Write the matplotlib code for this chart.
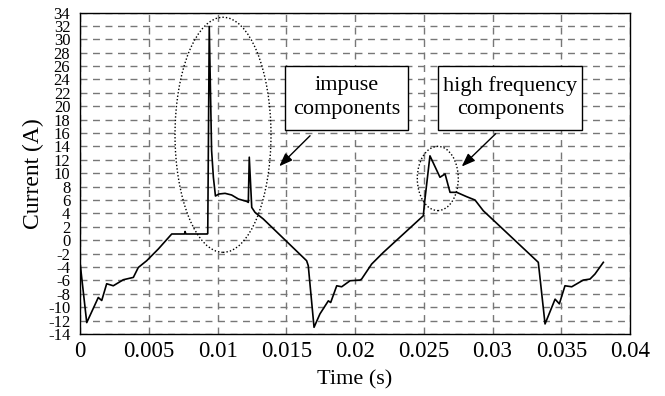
import matplotlib.pyplot as plt
from matplotlib.patches import Ellipse, Rectangle

# Times-like serif font
plt.rcParams['font.family'] = 'Liberation Serif'

# waveform (time in s, current in A)
t = [0.0, 0.00049, 0.00133, 0.00158, 0.00194, 0.00242, 0.00315, 0.00388,
     0.00424, 0.00485, 0.0057, 0.00667, 0.0076, 0.00764, 0.0077, 0.00926,
     0.00929, 0.0094, 0.00957, 0.0097, 0.00985, 0.0101, 0.01055, 0.01103,
     0.01152, 0.01212, 0.01224, 0.01231, 0.01249, 0.01273, 0.01333, 0.01648,
     0.0166, 0.01702, 0.01745, 0.01806, 0.01823, 0.01867, 0.01903, 0.01964,
     0.02036, 0.02048, 0.02121, 0.02206, 0.02352, 0.02497, 0.02505, 0.02545,
     0.02618, 0.02655, 0.02691, 0.0274, 0.02812, 0.02873, 0.02933, 0.03006,
     0.03333, 0.03382, 0.03455, 0.03486, 0.03527, 0.03576, 0.0366, 0.03709,
     0.03745, 0.03806]
current = [-3.3, -12.3, -8.55, -9.0, -6.5, -6.8, -5.9, -5.55,
           -4.07, -3.06, -1.3, 0.93, 0.93, 1.3, 0.93, 0.93,
           1.0, 31.9, 13.4, 9.4, 6.6, 6.9, 7.0, 6.75,
           6.15, 5.8, 5.65, 12.4, 4.9, 4.15, 3.17, -3.06,
           -3.8, -13.0, -11.0, -9.05, -9.3, -6.8, -6.95, -6.05,
           -5.95, -5.8, -3.56, -1.82, 0.93, 3.66, 5.5, 12.6,
           9.4, 9.9, 7.15, 7.15, 6.5, 6.0, 4.4, 3.0,
           -3.3, -12.5, -8.8, -9.5, -6.8, -6.95, -5.95, -5.8,
           -5.05, -3.3]

x_ticks = [0, 0.005, 0.01, 0.015, 0.02, 0.025, 0.03, 0.035, 0.04]
x_labels = ['0', '0.005', '0.01', '0.015', '0.02', '0.025', '0.03', '0.035', '0.04']
y_ticks = list(range(-14, 35, 2))

fig = plt.figure(figsize=(6.65, 3.96), dpi=100)
ax = fig.add_axes([0.1203, 0.1566, 0.8271, 0.8118])

ax.plot(t, current, color='black', lw=1.2, zorder=3)

ax.set_xlim(0, 0.04)
ax.set_ylim(-14, 34)
ax.set_xticks(x_ticks)
ax.set_xticklabels(x_labels, fontsize=16.5)
ax.set_yticks(y_ticks)
ax.set_yticklabels([str(v) for v in y_ticks], fontsize=12)
ax.tick_params(length=0, pad=5)
ax.tick_params(axis='y', pad=7)
ax.grid(True, color='#777777', linestyle=(0, (5, 4)), lw=1)
for s in ax.spines.values():
    s.set_linewidth(1)

ax.set_xlabel('Time (s)', fontsize=16, labelpad=6)
ax.set_ylabel('Current (A)', fontsize=17, labelpad=3)

# dotted ellipses round the marked parts
ax.add_patch(Ellipse((0.0104, 15.74), 0.00698, 35.1, fill=False,
                     ls=(0, (1, 1.5)), lw=1, color='black', zorder=4))
ax.add_patch(Ellipse((0.02602, 9.22), 0.00298, 9.6, fill=False,
                     ls=(0, (1, 1.5)), lw=1, color='black', zorder=4))

# label boxes
ax.add_patch(Rectangle((0.01491, 16.47), 0.00897, 9.53, facecolor='white',
                       edgecolor='black', lw=1, zorder=5))
ax.add_patch(Rectangle((0.02606, 16.47), 0.01047, 9.53, facecolor='white',
                       edgecolor='black', lw=1, zorder=5))
ax.text(0.0194, 21.3, 'impuse\ncomponents', ha='center', va='center',
        fontsize=16, linespacing=1.3, zorder=6)
ax.text(0.0313, 21.3, 'high frequency\ncomponents', ha='center', va='center',
        fontsize=16, linespacing=1.3, zorder=6)

arrow = dict(arrowstyle='-|>,head_length=0.8,head_width=0.3', color='black',
             lw=1, shrinkA=0, shrinkB=0)
ax.annotate('', xy=(0.01449, 11.04), xytext=(0.01673, 15.6), arrowprops=arrow, zorder=6)
ax.annotate('', xy=(0.02776, 11.0), xytext=(0.03023, 15.9), arrowprops=arrow, zorder=6)

fig.savefig('out.png', dpi=100)
